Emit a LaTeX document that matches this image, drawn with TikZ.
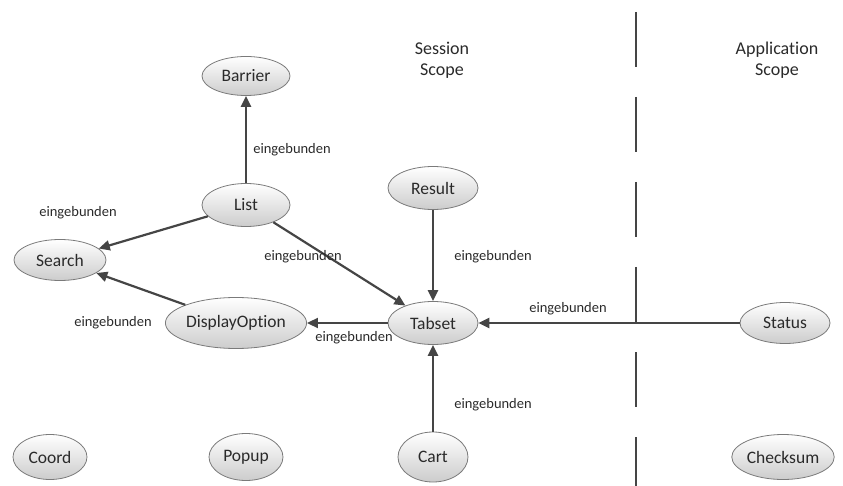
\documentclass[tikz,border=0pt]{standalone}
\usepackage{fontspec}
\setmainfont{Carlito}[Ligatures={NoCommon}]
\usetikzlibrary{shapes.geometric,arrows.meta}
\definecolor{edgegray}{HTML}{454545}
\definecolor{rimgray}{HTML}{7A7A7A}
\definecolor{txtgray}{HTML}{2A2A2A}
\tikzset{
  comp/.style={ellipse, draw=rimgray, line width=0.8pt, top color=white,
    bottom color=black!20, inner sep=0pt, text=txtgray, font=\fontsize{17.5}{17.5}\selectfont},
  link/.style={draw=edgegray, line width=2.2pt,
    -{Triangle[length=11pt,width=10pt]}},
  lbl/.style={text=txtgray, font=\fontsize{14.5}{14.5}\selectfont, inner sep=1pt},
  scopelbl/.style={text=txtgray, font=\fontsize{18}{21}\selectfont, align=center},
  divider/.style={draw=edgegray, line width=2.6pt, dash pattern=on 55pt off 30pt}
}
\begin{document}
\begin{tikzpicture}[x=1pt,y=-1pt]
\useasboundingbox (0,0) rectangle (843,486);

% scope headings and the boundary between them
\node[scopelbl] (sess) at (442,60) {Session\\Scope};
\node[scopelbl] (appl) at (777,60) {Application\\Scope};
\coordinate (divtop) at (636,12);
\coordinate (divbot) at (636,486);
\draw[divider] (divtop) -- (divbot);

% components
\node[comp, minimum width=88pt, minimum height=39pt] (barrier) at (246,76) {Barrier};
\node[comp, minimum width=88pt, minimum height=43pt] (list) at (246,205) {List};
\node[comp, minimum width=92pt, minimum height=41pt] (search) at (60,260) {Search};
\node[comp, minimum width=112pt, minimum height=51pt] (display) at (236,323) {DisplayOption};
\node[comp, minimum width=90pt, minimum height=43pt] (tabset) at (433,323) {Tabset};
\node[comp, minimum width=90pt, minimum height=43pt] (result) at (433,188) {Result};
\node[comp, minimum width=90pt, minimum height=41pt] (status) at (785,323) {Status};
\node[comp, minimum width=74pt, minimum height=45pt] (coord) at (50,457) {Coord};
\node[comp, minimum width=74pt, minimum height=47pt] (popup) at (246,457) {Popup};
\node[comp, minimum width=70pt, minimum height=50pt] (cart) at (433,457) {Cart};
\node[comp, minimum width=74pt, minimum height=45pt] (checksum) at (783,457) {Checksum};

% dependencies
\draw[link] (list) -- (barrier);
\draw[link] (list) -- (search);
\draw[link] (list) -- (tabset);
\draw[link] (result) -- (tabset);
\draw[link] (display) -- (search);
\draw[link] (tabset) -- (display);
\draw[link] (status) -- (tabset);
\draw[link] (cart) -- (tabset);

% dependency labels
\node[lbl] (l1) at (292,150) {eingebunden};
\node[lbl] (l2) at (78,213) {eingebunden};
\node[lbl] (l3) at (303,257) {eingebunden};
\node[lbl] (l4) at (493,257) {eingebunden};
\node[lbl] (l5) at (113,323) {eingebunden};
\node[lbl] (l6) at (354,338) {eingebunden};
\node[lbl] (l7) at (568,309) {eingebunden};
\node[lbl] (l8) at (493,405) {eingebunden};
\end{tikzpicture}
\end{document}
